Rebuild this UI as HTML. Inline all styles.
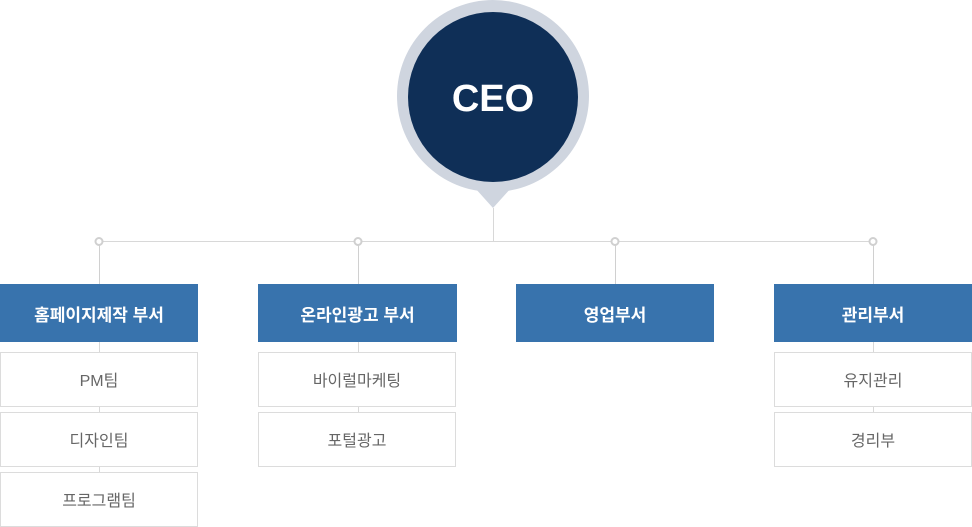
<!DOCTYPE html>
<html><head><meta charset="utf-8"><style>
body{margin:0;width:972px;height:527px;background:#fff;position:relative;overflow:hidden;font-family:"Liberation Sans","Noto Sans CJK KR",sans-serif}
.a{position:absolute}
.d{position:absolute;top:284px;height:58px;background:#3873ad;color:#fff;font-size:17px;font-weight:bold;display:flex;align-items:center;justify-content:center}
.s{position:absolute;height:53px;border:1px solid #dcdcdc;background:#fff;color:#666;font-size:16px;display:flex;align-items:center;justify-content:center;box-sizing:border-box;padding-bottom:2px}
.v{position:absolute;width:1px;background:#d8d8d8}
</style></head><body>
<svg class="a" style="left:0;top:0" width="972" height="300">
<circle cx="493" cy="96" r="96" fill="#cfd5df"/>
<polygon points="475,188 511,188 493,208" fill="#cfd5df"/>
<circle cx="493" cy="97" r="85" fill="#0f2f57"/>
<text x="493" y="111" text-anchor="middle" fill="#fff" font-family="Liberation Sans, sans-serif" font-weight="bold" font-size="38">CEO</text>
<line x1="493.5" y1="208" x2="493.5" y2="241" stroke="#d8d8d8"/>
<line x1="99" y1="241.5" x2="873" y2="241.5" stroke="#d8d8d8"/>
<g stroke="#d0d0d0" stroke-width="2" fill="#fff">
<line x1="99.5" y1="241" x2="99.5" y2="284" stroke-width="1"/>
<line x1="358.5" y1="241" x2="358.5" y2="284" stroke-width="1"/>
<line x1="615.5" y1="241" x2="615.5" y2="284" stroke-width="1"/>
<line x1="873.5" y1="241" x2="873.5" y2="284" stroke-width="1"/>
<circle cx="99" cy="241.5" r="3.5"/><circle cx="358" cy="241.5" r="3.5"/><circle cx="615" cy="241.5" r="3.5"/><circle cx="873" cy="241.5" r="3.5"/>
</g></svg>
<div class="v" style="left:99px;top:342px;height:140px"></div>
<div class="v" style="left:358px;top:342px;height:80px"></div>
<div class="v" style="left:873px;top:342px;height:80px"></div>
<div class="d" style="left:0;width:198px">홈페이지제작 부서</div>
<div class="d" style="left:258px;width:199px">온라인광고 부서</div>
<div class="d" style="left:516px;width:198px">영업부서</div>
<div class="d" style="left:774px;width:198px">관리부서</div>
<div class="s" style="left:0;top:352px;width:198px;height:55px">PM팀</div>
<div class="s" style="left:0;top:412px;width:198px;height:55px">디자인팀</div>
<div class="s" style="left:0;top:472px;width:198px;height:55px">프로그램팀</div>
<div class="s" style="left:258px;top:352px;width:198px;height:55px">바이럴마케팅</div>
<div class="s" style="left:258px;top:412px;width:198px;height:55px">포털광고</div>
<div class="s" style="left:774px;top:352px;width:198px;height:55px">유지관리</div>
<div class="s" style="left:774px;top:412px;width:198px;height:55px">경리부</div>
</body></html>
